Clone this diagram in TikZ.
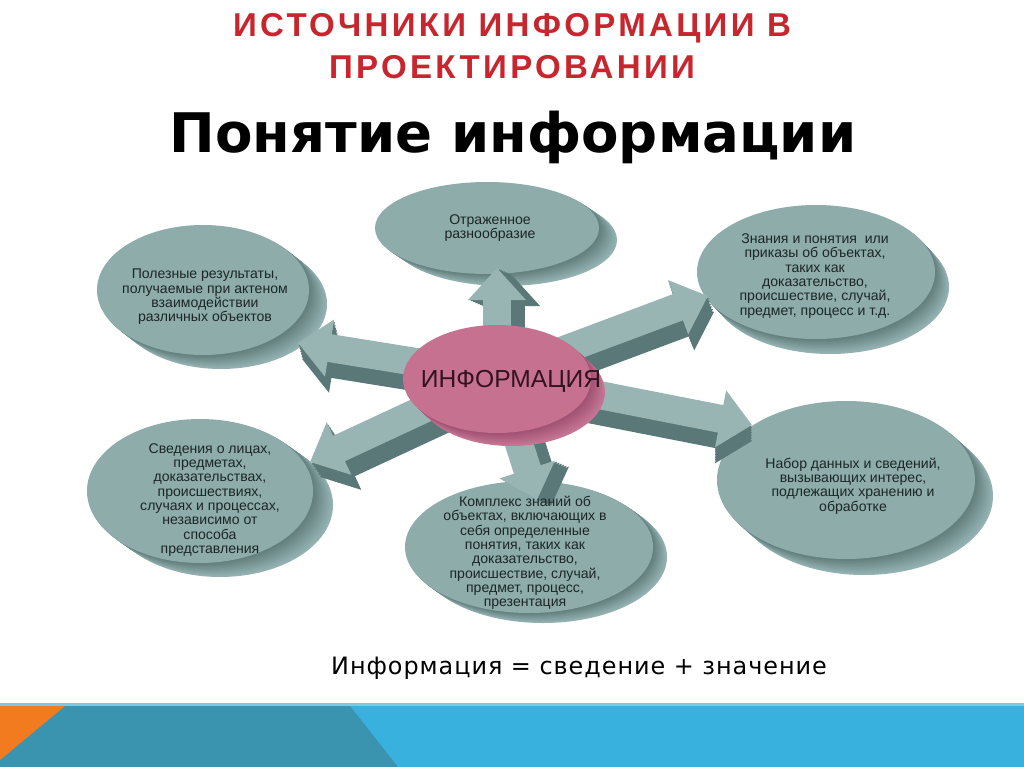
\documentclass[tikz,border=0pt]{standalone}
\usepackage{fontspec}
\setmainfont{Liberation Sans}
\newfontfamily\titlefont[LetterSpace=10]{Liberation Sans}
\newfontfamily\dejavu{DejaVu Sans}
\newfontfamily\dejavusp[LetterSpace=4]{DejaVu Sans}
\usetikzlibrary{shapes.geometric,arrows.meta,calc}
\definecolor{faceC}{HTML}{8DACAA}
\definecolor{sideD}{HTML}{5E7B7A}
\definecolor{sideL}{HTML}{B8D6D6}
\definecolor{arrF}{HTML}{98B5B3}
\definecolor{arrD}{HTML}{5A7877}
\definecolor{pinkF}{HTML}{C6718F}
\definecolor{pinkD}{HTML}{9E4E6E}
\definecolor{pinkL}{HTML}{DE90AE}
\definecolor{txtC}{HTML}{1C2626}
\definecolor{infoT}{HTML}{341220}
\definecolor{titleC}{HTML}{C8262E}
\definecolor{bandO}{HTML}{F27B20}
\definecolor{bandT}{HTML}{3A93AF}
\definecolor{bandB}{HTML}{38B1DF}
\definecolor{bandLine}{HTML}{7DC8E4}
\newcommand\pxu{0.025cm}
% cx cy rx ry dx dy dark light
\newcommand\discside[8]{%
  \foreach \i in {10,9,...,1}{%
    \pgfmathsetmacro\fr{\i/10}%
    \pgfmathsetmacro\pc{100-\i*6}%
    \fill[#7!\pc!#8] ({#1+\fr*#5},{#2+\fr*#6}) ellipse [x radius=#3, y radius=#4];
  }}
\newcommand\blockarrow[4]{%
  \foreach \k in {6,5,...,1}{%
    \draw[arrside] ($(#1)+({\k*#3/6},{\k*#4/6})$) -- ($(#2)+({\k*#3/6},{\k*#4/6})$);
  }
  \draw[arrface] (#1) -- (#2);}
\tikzset{
  discface/.style={ellipse, fill=faceC, inner sep=0pt, draw=none},
  disctext/.style={align=center, text=txtC, inner sep=0pt, font=\fontsize{10}{10.2}\selectfont},
  arrside/.style={draw=arrD, line width=0.7cm, -{Triangle[width=1.4cm,length=0.8cm]}},
  arrface/.style={draw=arrF, line width=0.7cm, -{Triangle[width=1.4cm,length=0.8cm]}},
  titlestyle/.style={text=titleC, font=\titlefont\bfseries\fontsize{23.5}{26}\selectfont},
}
\begin{document}
\begin{tikzpicture}[x=0.025cm,y=-0.025cm]
\useasboundingbox (0,0) rectangle (1024,767);
\fill[white] (0,0) rectangle (1024,767);

% titles
\node[titlestyle] (t1) at (512,28) {ИСТОЧНИКИ ИНФОРМАЦИИ В};
\node[titlestyle] (t2) at (512,67) {ПРОЕКТИРОВАНИИ};
\node[font=\dejavu\bfseries\fontsize{38.8}{42}\selectfont] (h) at (513,137) {Понятие информации};

% discs
\discside{487}{228}{112}{46}{18}{12}{sideD}{sideL}
\node[discface, minimum width={224*\pxu}, minimum height={92*\pxu}] (d1) at (487,228) {};
\discside{203}{290}{106}{65}{18}{14}{sideD}{sideL}
\node[discface, minimum width={212*\pxu}, minimum height={130*\pxu}] (d2) at (203,290) {};
\discside{816}{272}{119}{67}{14}{15}{sideD}{sideL}
\node[discface, minimum width={238*\pxu}, minimum height={134*\pxu}] (d3) at (816,272) {};
\discside{200}{491}{113}{72}{20}{14}{sideD}{sideL}
\node[discface, minimum width={226*\pxu}, minimum height={144*\pxu}] (d4) at (200,491) {};
\discside{846}{480}{129}{79}{18}{16}{sideD}{sideL}
\node[discface, minimum width={258*\pxu}, minimum height={158*\pxu}] (d5) at (846,480) {};
\discside{529}{547}{124}{66}{14}{10}{sideD}{sideL}
\node[discface, minimum width={248*\pxu}, minimum height={132*\pxu}] (d6) at (529,547) {};

% arrows
\coordinate (c0) at (497,375);
\coordinate (a1) at (497,268);
\coordinate (a2) at (298,343);
\coordinate (a3) at (708,296);
\coordinate (a4) at (310,462);
\coordinate (a5) at (752,425);
\coordinate (a6) at (537,500);
\blockarrow{c0}{a1}{14}{6}
\blockarrow{c0}{a2}{4}{16}
\blockarrow{c0}{a3}{6}{16}
\blockarrow{c0}{a4}{10}{15}
\blockarrow{c0}{a5}{0}{16}
\blockarrow{c0}{a6}{14}{6}

% disc labels
\node[disctext] (l1) at (490,228) {Отраженное\\разнообразие};
\node[disctext] (l2) at (205,297) {Полезные результаты,\\получаемые при актеном\\взаимодействии\\различных объектов};
\node[disctext] (l3) at (815,276) {Знания и понятия\ \ или\\приказы об объектах,\\таких как\\доказательство,\\происшествие, случай,\\предмет, процесс и т.д.};
\node[disctext] (l4) at (210,500) {Сведения о лицах,\\предметах,\\доказательствах,\\происшествиях,\\случаях и процессах,\\независимо от\\способа\\представления};
\node[disctext] (l5) at (853,486) {Набор данных и сведений,\\вызывающих интерес,\\подлежащих хранению и\\обработке};
\node[disctext] (l6) at (525,553) {Комплекс знаний об\\объектах, включающих в\\себя определенные\\понятия, таких как\\доказательство,\\происшествие, случай,\\предмет, процесс,\\презентация};

% centre disc
\discside{497}{379}{94}{54}{14}{13}{pinkD}{pinkL}
\node[ellipse, fill=pinkF, inner sep=0pt, minimum width={188*\pxu}, minimum height={108*\pxu}] (info) at (497,379) {};
\node[text=infoT, font=\fontsize{17.5}{19}\selectfont, inner sep=0pt] (infol) at (511,381) {ИНФОРМАЦИЯ};

% formula
\node[font=\dejavusp\fontsize{17}{19}\selectfont] (f) at (579,668) {Информация = сведение + значение};

% bottom band
\fill[bandLine] (0,703) rectangle (1024,706);
\fill[bandB] (0,706) rectangle (1024,767);
\fill[bandT] (0,706) -- (350,706) -- (398,767) -- (0,767) -- cycle;
\fill[bandO] (0,706) -- (65,706) -- (0,760) -- cycle;
\end{tikzpicture}
\end{document}
